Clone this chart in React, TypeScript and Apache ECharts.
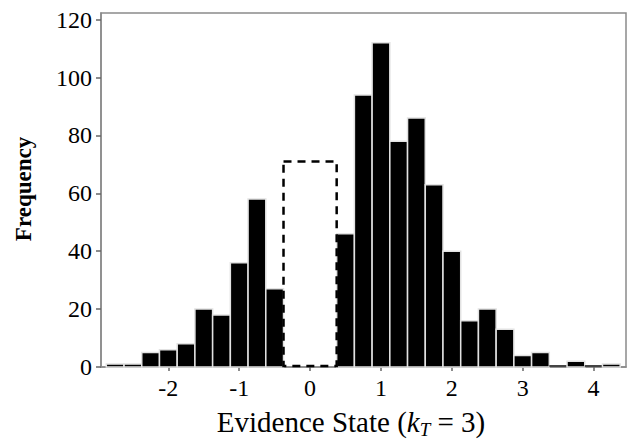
import React, { useEffect, useRef } from "react";
import * as echarts from "echarts";

const binCenters = [-2.75, -2.5, -2.25, -2, -1.75, -1.5, -1.25, -1, -0.75, -0.5, 0.5, 0.75, 1, 1.25, 1.5, 1.75, 2, 2.25, 2.5, 2.75, 3, 3.25, 3.5, 3.75, 4, 4.25];
const binCounts = [1, 1, 5, 6, 8, 20, 18, 36, 58, 27, 46, 94, 112, 78, 86, 63, 40, 16, 20, 13, 4, 5, 0, 2, 0, 1];
const binWidth = 0.25;

const dashedCenters = [0];
const dashedCounts = [71];
const dashedWidth = 0.75;

const xTicks = [-2, -1, 0, 1, 2, 3, 4];
const yTicks = [0, 20, 40, 60, 80, 100, 120];

const xTitle = "{n|Evidence State (}{i|k}{s|T}{n| = 3)}";
const yTitle = "Frequency";

const FONT = "Liberation Serif";

export default function App() {
  const ref = useRef<HTMLDivElement>(null);
  useEffect(() => {
    if (!ref.current) return;
    const chart = echarts.init(ref.current, null, { renderer: "svg" });
    const solidData = binCenters.map((c, i) => [c, binCounts[i]]);
    const dashedData = dashedCenters.map((c, i) => [c, dashedCounts[i]]);
    chart.setOption({
      animation: false,
      backgroundColor: "#fff",
      textStyle: { fontFamily: FONT },
      grid: {
        left: 101,
        right: 6,
        top: 13,
        bottom: 76,
        show: true,
        borderColor: "#8a8a8a",
        borderWidth: 1.5,
        backgroundColor: "transparent",
      },
      xAxis: {
        type: "value",
        min: -2.95,
        max: 4.457,
        splitLine: { show: false },
        axisLine: { show: true, onZero: false, lineStyle: { color: "#8a8a8a", width: 1.5 } },
        axisTick: { show: true, length: 4, customValues: xTicks, lineStyle: { color: "#666", width: 1.5 } },
        axisLabel: {
          customValues: xTicks,
          margin: 9,
          color: "#000",
          fontFamily: FONT,
          fontSize: 24,
          formatter: (v: number) => String(v),
        },
      },
      yAxis: {
        type: "value",
        min: 0,
        max: 122.3,
        splitLine: { show: false },
        axisLine: { show: true, onZero: false, lineStyle: { color: "#8a8a8a", width: 1.5 } },
        axisTick: { show: true, length: 5, customValues: yTicks, lineStyle: { color: "#666", width: 1.5 } },
        axisLabel: {
          customValues: yTicks,
          margin: 9,
          color: "#000",
          fontFamily: FONT,
          fontSize: 24,
        },
      },
      series: [
        {
          type: "custom",
          coordinateSystem: "cartesian2d",
          encode: { x: 0, y: 1 },
          data: solidData,
          z: 2,
          renderItem: (params: any, api: any) => {
            const c = api.value(0);
            const v = api.value(1);
            const p0 = api.coord([c - binWidth / 2, v]);
            const p1 = api.coord([c + binWidth / 2, 0]);
            if (v === 0) {
              return {
                type: "line",
                shape: { x1: p0[0], y1: p1[1] - 1, x2: p1[0], y2: p1[1] - 1 },
                style: { stroke: "#444", lineWidth: 2 },
              };
            }
            return {
              type: "rect",
              shape: { x: p0[0], y: p0[1], width: p1[0] - p0[0], height: p1[1] - p0[1] },
              style: { fill: "#000", stroke: "#e2e2e2", lineWidth: 1.5 },
            };
          },
        },
        {
          type: "custom",
          coordinateSystem: "cartesian2d",
          encode: { x: 0, y: 1 },
          data: dashedData,
          z: 3,
          renderItem: (params: any, api: any) => {
            const c = api.value(0);
            const v = api.value(1);
            const p0 = api.coord([c - dashedWidth / 2, v]);
            const p1 = api.coord([c + dashedWidth / 2, 0]);
            return {
              type: "rect",
              shape: { x: p0[0], y: p0[1], width: p1[0] - p0[0], height: p1[1] - p0[1] - 1 },
              style: { fill: "none", stroke: "#000", lineWidth: 2.5, lineDash: [8, 6] },
            };
          },
        },
      ],
      graphic: [
        {
          type: "text",
          x: 351,
          y: 422,
          style: {
            text: xTitle,
            align: "center",
            verticalAlign: "middle",
            fill: "#000",
            rich: {
              n: { fontFamily: FONT, fontSize: 29, lineHeight: 34, verticalAlign: "middle", fill: "#000" },
              i: { fontFamily: FONT, fontSize: 29, fontStyle: "italic", lineHeight: 34, verticalAlign: "middle", fill: "#000" },
              s: { fontFamily: FONT, fontSize: 19, fontStyle: "italic", lineHeight: 19, verticalAlign: "bottom", fill: "#000" },
            },
          },
        },
        {
          type: "text",
          x: 23,
          y: 189,
          rotation: Math.PI / 2,
          style: {
            text: yTitle,
            align: "center",
            verticalAlign: "middle",
            fill: "#000",
            fontFamily: FONT,
            fontSize: 23,
            fontWeight: "bold",
          },
        },
      ],
    });
    return () => chart.dispose();
  }, []);
  return (
    <div
      ref={ref}
      style={{ position: "absolute", left: 0, top: 0, width: 632, height: 443 }}
    />
  );
}
